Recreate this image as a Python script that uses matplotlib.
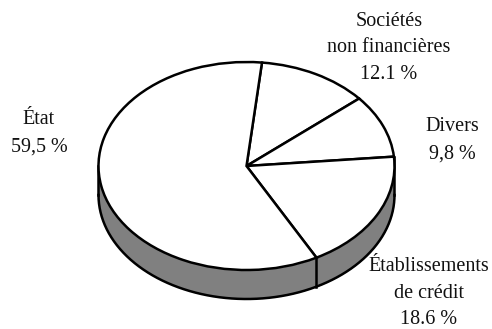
#!/usr/bin/env python3
"""3D-looking pie: share by holder, drawn flat with ax.pie and squashed through the axis limits."""
import numpy as np
import matplotlib
matplotlib.use("Agg")
import matplotlib.pyplot as plt

labels = ["Sociétés\nnon financières\n12.1 %", "Divers\n9,8 %",
          "Établissements\nde crédit\n18.6 %", "État\n59,5 %"]
values = [12.1, 9.8, 18.6, 59.5]

W, H = 492, 329
CX, CY = 246.5, 166      # pie centre, pixels from top left
RX, RY = 148, 104        # ellipse radii in pixels
DEPTH = 29 / RY          # wall height in data units
START = 84
LW = 1.8
label_pos = [(389, 48), (452, 140), (429, 293), (39, 133)]
label_ls = [1.54, 1.64, 1.52, 1.64]

plt.rcParams["font.family"] = ["Liberation Serif", "DejaVu Serif"]

fig = plt.figure(figsize=(W / 100, H / 100), dpi=100)
ax = fig.add_axes([0, 0, 1, 1])

# wall first, the top of the pie goes over it
t = np.radians(np.linspace(180, 360, 300))
ax.fill_between(np.cos(t), np.sin(t), np.sin(t) - DEPTH, color="#808080", lw=0, zorder=1)
ax.plot(np.cos(t), np.sin(t) - DEPTH, color="k", lw=LW, zorder=2)
ax.plot([-1, -1], [0, -DEPTH], color="k", lw=LW, zorder=2)

ax.pie(values, startangle=START, counterclock=False, colors=["white"] * len(values),
       wedgeprops=dict(edgecolor="k", linewidth=LW, zorder=3))

# vertical edges: under the slice border facing the viewer and down the right side
fracs = np.cumsum(values) / np.sum(values)
a = np.radians(START - 360 * fracs[2])
ax.plot([np.cos(a)] * 2, [np.sin(a), np.sin(a) - DEPTH], color="k", lw=LW, zorder=2)
a = np.radians(START - 360 * fracs[1])
ax.plot([np.cos(a)] * 2, [np.sin(a), -DEPTH], color="k", lw=LW, zorder=2)

ax.set_xlim(-CX / RX, (W - CX) / RX)
ax.set_ylim(-(H - CY) / RY, CY / RY)
ax.set_aspect("auto")
ax.axis("off")

for lab, (px, py), ls in zip(labels, label_pos, label_ls):
    ax.text((px - CX) / RX, (CY - py) / RY, lab, ha="center", va="center",
            fontsize=14.5, linespacing=ls, color="#111111")

fig.savefig("out.png", dpi=100)
